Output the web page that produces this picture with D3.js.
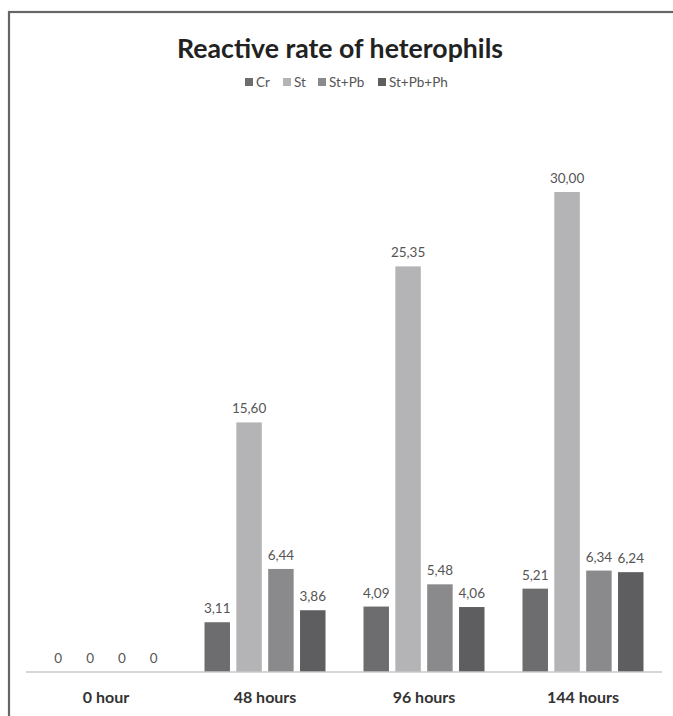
<!DOCTYPE html>
<html><head><meta charset="utf-8">
<script src="https://cdn.jsdelivr.net/npm/d3@7"></script>
<style>body{margin:0;background:#fff}svg{display:block}</style>
</head><body>
<script>
const categories = ["0 hour", "48 hours", "96 hours", "144 hours"];
const seriesNames = ["Cr", "St", "St+Pb", "St+Pb+Ph"];
const cr = [0, 3.11, 4.09, 5.21];
const st = [0, 15.60, 25.35, 30.00];
const stPb = [0, 6.44, 5.48, 6.34];
const stPbPh = [0, 3.86, 4.06, 6.24];
const seriesValues = [cr, st, stPb, stPbPh];
const colors = ["#6d6d6f", "#b4b4b6", "#8a8a8c", "#5e5e60"];

const W = 673, H = 716;
const FONT = "Lato, 'Open Sans', sans-serif";
const svg = d3.select("body").append("svg").attr("width", W).attr("height", H);

// frame
svg.append("rect").attr("x", 9).attr("y", 12).attr("width", 700).attr("height", 720)
  .attr("fill", "none").attr("stroke", "#666").attr("stroke-width", 2.2);

svg.append("text").attr("x", 340).attr("y", 58).attr("text-anchor", "middle")
  .attr("font-family", FONT).attr("font-weight", "bold")
  .attr("font-size", 26).attr("textLength", 326).attr("lengthAdjust", "spacingAndGlyphs")
  .attr("fill", "#222").text("Reactive rate of heterophils");

// legend
const legendX = [245, 283, 318, 378];
const lg = svg.append("g").attr("font-family", FONT).attr("font-size", 13.5).attr("fill", "#555");
seriesNames.forEach((n, i) => {
  lg.append("rect").attr("x", legendX[i]).attr("y", 78).attr("width", 8).attr("height", 8).attr("fill", colors[i]);
  lg.append("text").attr("x", legendX[i] + 11).attr("y", 87).text(n);
});

const x0 = d3.scaleBand().domain(categories).range([26.5, 662.5]).paddingInner(0).paddingOuter(0);
const GW = 121;
const x1 = d3.scaleBand().domain(seriesNames).range([0, GW]).paddingInner(0.2).paddingOuter(0);
const y = d3.scaleLinear().domain([0, 30]).range([672, 192]);

const groups = svg.append("g").selectAll("g").data(categories).join("g")
  .attr("transform", d => `translate(${x0(d) + (x0.bandwidth() - GW) / 2},0)`);

groups.each(function(c, ci) {
  const g = d3.select(this);
  seriesNames.forEach((s, si) => {
    const v = seriesValues[si][ci];
    g.append("rect").attr("x", x1(s)).attr("y", y(v)).attr("width", x1.bandwidth())
      .attr("height", y(0) - y(v)).attr("fill", colors[si]);
    g.append("text").attr("x", x1(s) + x1.bandwidth() / 2).attr("y", y(v) - 9)
      .attr("text-anchor", "middle").attr("font-family", FONT)
      .attr("font-size", 13.5).attr("fill", "#555")
      .text(v === 0 ? "0" : v.toFixed(2).replace(".", ","));
  });
});

// axis
const axis = svg.append("g").attr("transform", `translate(0,${y(0)})`)
  .call(d3.axisBottom(x0).tickSize(0));
axis.select(".domain").attr("d", "M26,0H662").attr("stroke", "#c8c8c8").attr("stroke-width", 1.5);
axis.selectAll("text").attr("y", 31).attr("dy", 0).attr("font-family", FONT).attr("font-weight", "bold")
  .attr("font-size", 16).attr("fill", "#333");
</script>
</body></html>
